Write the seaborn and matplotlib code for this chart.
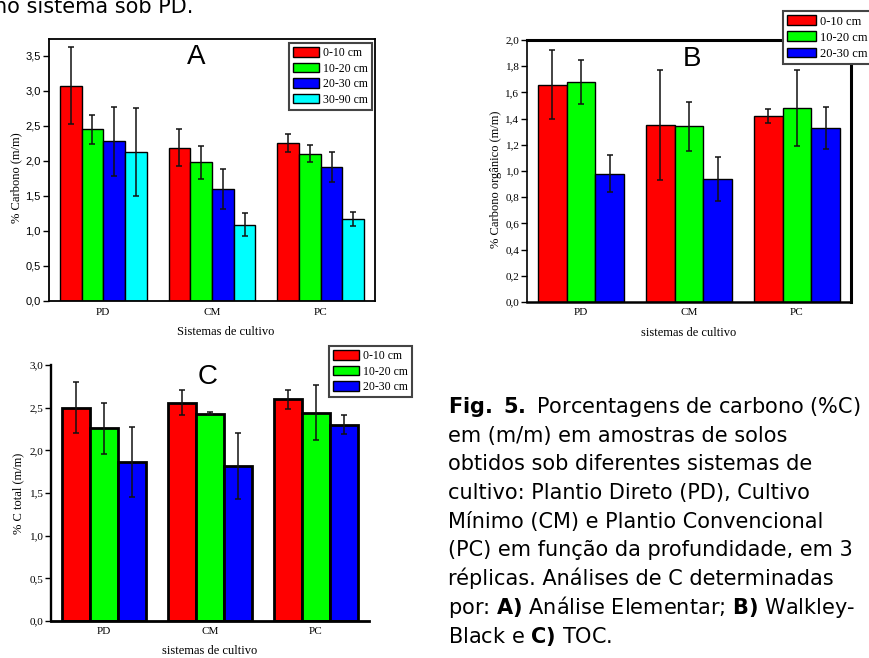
import numpy as np
import pandas as pd
import matplotlib
matplotlib.use("Agg")
import matplotlib.pyplot as plt
from matplotlib.patches import Patch
from matplotlib.font_manager import FontProperties
from matplotlib.ticker import FuncFormatter, MultipleLocator
import seaborn as sns

# ---------------- data ----------------
systems = ["PD", "CM", "PC"]
depths_a = ["0-10 cm", "10-20 cm", "20-30 cm", "30-90 cm"]
depths_bc = ["0-10 cm", "10-20 cm", "20-30 cm"]

# Panel A - Análise Elementar (% Carbono m/m), values per system PD, CM, PC
a_0_10 = [3.07, 2.19, 2.25]
a_10_20 = [2.45, 1.98, 2.10]
a_20_30 = [2.28, 1.60, 1.91]
a_30_90 = [2.13, 1.09, 1.17]
a_err_0_10 = [0.55, 0.27, 0.13]
a_err_10_20 = [0.21, 0.235, 0.12]
a_err_20_30 = [0.49, 0.28, 0.21]
a_err_30_90 = [0.63, 0.16, 0.095]

# Panel B - Walkley-Black (% Carbono orgânico m/m)
b_0_10 = [1.66, 1.35, 1.42]
b_10_20 = [1.68, 1.34, 1.48]
b_20_30 = [0.98, 0.94, 1.33]
b_err_0_10 = [0.26, 0.42, 0.05]
b_err_10_20 = [0.17, 0.19, 0.29]
b_err_20_30 = [0.14, 0.17, 0.16]

# Panel C - TOC (% C total m/m)
c_0_10 = [2.50, 2.56, 2.60]
c_10_20 = [2.26, 2.43, 2.44]
c_20_30 = [1.86, 1.815, 2.30]
c_err_0_10 = [0.295, 0.145, 0.11]
c_err_10_20 = [0.30, 0.02, 0.32]
c_err_20_30 = [0.41, 0.385, 0.11]

colors4 = ["#FF0000", "#00FF00", "#0000FF", "#00FFFF"]

caption_lines = [
    r"$\mathbf{Fig.\ 5.}$ Porcentagens de carbono (%C)",
    "em (m/m) em amostras de solos",
    "obtidos sob diferentes sistemas de",
    "cultivo: Plantio Direto (PD), Cultivo",
    "Mínimo (CM) e Plantio Convencional",
    "(PC) em função da profundidade, em 3",
    "réplicas. Análises de C determinadas",
    r"por: $\mathbf{A)}$ Análise Elementar; $\mathbf{B)}$ Walkley-",
    r"Black e $\mathbf{C)}$ TOC.",
]
top_text = "no sistema sob PD."

# ---------------- style ----------------
sns.set_style("ticks")
plt.rcParams["font.family"] = ["DejaVu Sans"]
plt.rcParams["mathtext.fontset"] = "dejavusans"
for k in ["text.color", "axes.labelcolor", "xtick.color", "ytick.color",
          "axes.edgecolor"]:
    plt.rcParams[k] = "black"

W, H = 869, 658
fig = plt.figure(figsize=(W / 100, H / 100), dpi=100)
fig.patch.set_facecolor("white")

serif = "Liberation Serif"
sans = "Liberation Sans"


def px_ax(l, t, r, b):
    return fig.add_axes([l / W, 1 - b / H, (r - l) / W, (b - t) / H])


def comma(v, pos):
    return f"{v:.1f}".replace(".", ",")


def draw_panel(ax, vals, errs, depths, edge_lw, err_color):
    df = pd.DataFrame({
        "Sistema": systems * len(depths),
        "Profundidade": np.repeat(depths, len(systems)),
        "C": np.concatenate(vals),
    })
    sns.barplot(data=df, x="Sistema", y="C", hue="Profundidade",
                order=systems, hue_order=depths,
                palette=colors4[:len(depths)], saturation=1,
                errorbar=None, edgecolor="black", linewidth=edge_lw,
                width=0.8, legend=False, ax=ax)
    for cont, err in zip(ax.containers, errs):
        xs = [p.get_x() + p.get_width() / 2 for p in cont]
        ys = [p.get_height() for p in cont]
        ax.errorbar(xs, ys, yerr=err, fmt="none", ecolor=err_color,
                    elinewidth=1.1, capsize=2.3, capthick=1.1, zorder=5)
    ax.set_xlim(-0.5, 2.5)


def add_legend(ax, depths, anchor, size=8.5, hl=2.2):
    handles = [Patch(facecolor=c, edgecolor="black", linewidth=1.0)
               for c in colors4[:len(depths)]]
    leg = ax.legend(handles, depths, loc="upper left",
                    bbox_to_anchor=(anchor[0] / W, 1 - anchor[1] / H),
                    bbox_transform=fig.transFigure, borderaxespad=0,
                    frameon=True, fancybox=False, framealpha=1,
                    edgecolor="#444444",
                    prop=FontProperties(family=serif, size=size),
                    handlelength=hl, handleheight=0.85, labelspacing=0.3,
                    handletextpad=0.3, borderpad=0.35)
    leg.get_frame().set_linewidth(1.5)
    return leg


# ---------------- Panel A ----------------
axA = px_ax(49, 39, 375, 301)
draw_panel(axA, [a_0_10, a_10_20, a_20_30, a_30_90],
           [a_err_0_10, a_err_10_20, a_err_20_30, a_err_30_90],
           depths_a, 1.0, "#111111")
axA.set_ylim(0, 3.74)
axA.yaxis.set_major_locator(MultipleLocator(0.5))
axA.yaxis.set_major_formatter(FuncFormatter(comma))
for s in axA.spines.values():
    s.set_visible(True)
    s.set_linewidth(1.3)
    s.set_color("black")
axA.tick_params(axis="y", direction="out", length=4, width=1, pad=2,
                labelsize=8)
axA.tick_params(axis="x", length=0, pad=5, labelsize=8)
for lab in axA.get_yticklabels():
    lab.set_fontfamily(sans)
for lab in axA.get_xticklabels():
    lab.set_fontfamily(serif)
axA.set_ylabel("% Carbono (m/m)", fontfamily=serif, fontsize=9)
axA.set_xlabel("Sistemas de cultivo", fontfamily=serif, fontsize=9)
axA.yaxis.set_label_coords(-0.083, 0.47)
axA.xaxis.set_label_coords(0.543, -0.095)
axA.text(0.451, 0.93, "A", transform=axA.transAxes, ha="center",
         va="center", fontsize=20, fontfamily=sans)
add_legend(axA, depths_a, (289, 43))

# ---------------- Panel B ----------------
axB = px_ax(527, 40, 851, 302)
draw_panel(axB, [b_0_10, b_10_20, b_20_30],
           [b_err_0_10, b_err_10_20, b_err_20_30], depths_bc, 1.0, "#111111")
axB.set_ylim(0, 2.0)
axB.yaxis.set_major_locator(MultipleLocator(0.2))
axB.yaxis.set_major_formatter(FuncFormatter(comma))
for name, lw in [("left", 1.2), ("bottom", 1.8), ("top", 2.2), ("right", 2.2)]:
    axB.spines[name].set_visible(True)
    axB.spines[name].set_linewidth(lw)
    axB.spines[name].set_color("black")
axB.tick_params(axis="y", direction="out", length=4, width=1, pad=1.5,
                labelsize=8)
axB.tick_params(axis="x", direction="in", length=5, width=1.5, pad=4,
                labelsize=8)
for lab in axB.get_yticklabels() + axB.get_xticklabels():
    lab.set_fontfamily(serif)
axB.set_ylabel("% Carbono orgânico (m/m)", fontfamily=serif, fontsize=9)
axB.set_xlabel("sistemas de cultivo", fontfamily=serif, fontsize=9)
axB.yaxis.set_label_coords(-0.077, 0.47)
axB.xaxis.set_label_coords(0.5, -0.095)
axB.text(0.509, 0.927, "B", transform=axB.transAxes, ha="center",
         va="center", fontsize=20, fontfamily=sans)
add_legend(axB, depths_bc, (783, 11), size=9, hl=2.3)

# ---------------- Panel C ----------------
axC = px_ax(51, 365, 369, 621)
draw_panel(axC, [c_0_10, c_10_20, c_20_30],
           [c_err_0_10, c_err_10_20, c_err_20_30], depths_bc, 2.0, "#111111")
axC.set_ylim(0, 3.0)
axC.yaxis.set_major_locator(MultipleLocator(0.5))
axC.yaxis.set_major_formatter(FuncFormatter(comma))
axC.spines["top"].set_visible(False)
axC.spines["right"].set_visible(False)
axC.spines["left"].set_linewidth(1.7)
axC.spines["bottom"].set_linewidth(2.0)
axC.tick_params(axis="y", direction="out", length=4, width=1, pad=1.5,
                labelsize=8)
axC.tick_params(axis="x", direction="in", length=4.5, width=1.5, pad=4,
                labelsize=8)
for lab in axC.get_yticklabels() + axC.get_xticklabels():
    lab.set_fontfamily(serif)
axC.set_ylabel("% C total (m/m)", fontfamily=serif, fontsize=9)
axC.set_xlabel("sistemas de cultivo", fontfamily=serif, fontsize=9)
axC.yaxis.set_label_coords(-0.085, 0.5)
axC.xaxis.set_label_coords(0.5, -0.094)
axC.text(0.494, 0.953, "C", transform=axC.transAxes, ha="center",
         va="center", fontsize=20, fontfamily=sans)
add_legend(axC, depths_bc, (329, 346))

# ---------------- surrounding text ----------------
fig.text(-6 / W, 1 - 13 / H, top_text, fontsize=15, fontfamily="DejaVu Sans",
         ha="left", va="baseline", color="black")
for i, line in enumerate(caption_lines):
    y = 413 + 28.7 * i
    fig.text(448 / W, 1 - y / H, line, fontsize=15,
             fontfamily="DejaVu Sans", ha="left", va="baseline",
             color="black")

fig.savefig("out.png", dpi=100)
